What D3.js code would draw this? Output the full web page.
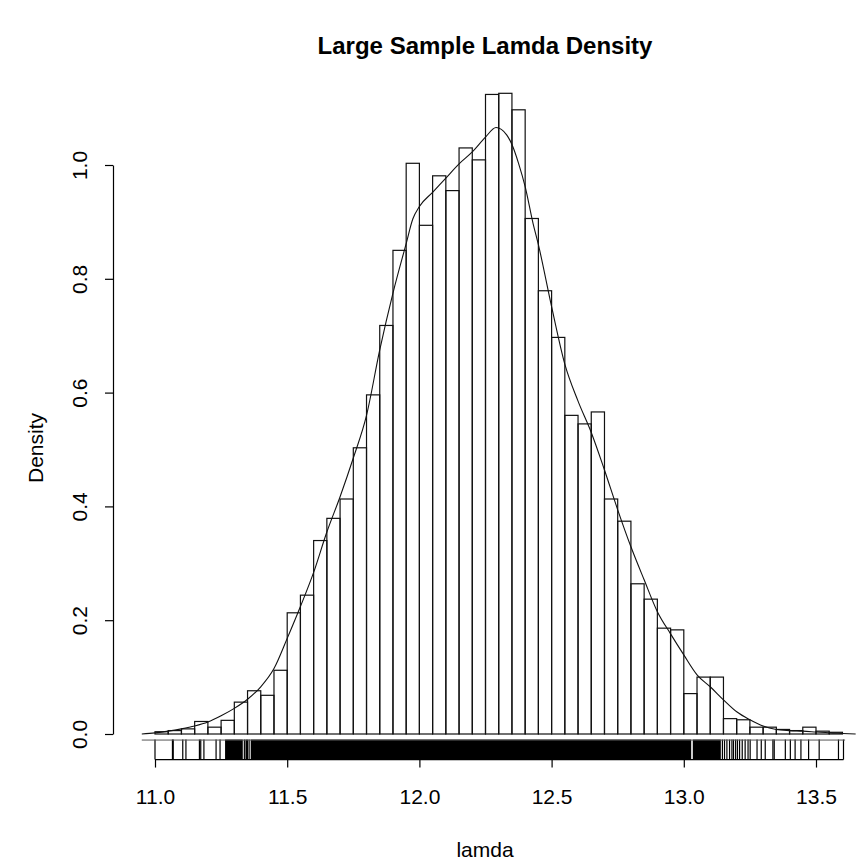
<!DOCTYPE html>
<html>
<head>
<meta charset="utf-8">
<script src="https://cdn.jsdelivr.net/npm/d3@7"></script>
<style>
  body { margin: 0; background: #fff; }
  svg { display: block; font-family: "Liberation Sans", Arial, sans-serif; }
</style>
</head>
<body>
<svg id="chart" width="857" height="862"></svg>
<script>
// histogram bins (left edge) and density heights
const binStarts = [11.00,11.05,11.10,11.15,11.20,11.25,11.30,11.35,11.40,11.45,
  11.50,11.55,11.60,11.65,11.70,11.75,11.80,11.85,11.90,11.95,
  12.00,12.05,12.10,12.15,12.20,12.25,12.30,12.35,12.40,12.45,
  12.50,12.55,12.60,12.65,12.70,12.75,12.80,12.85,12.90,12.95,
  13.00,13.05,13.10,13.15,13.20,13.25,13.30,13.35,13.40,13.45,
  13.50,13.55];
const binDensity = [0.004,0.006,0.009,0.022,0.012,0.024,0.056,0.076,0.068,0.112,
  0.213,0.244,0.340,0.379,0.413,0.503,0.596,0.718,0.850,1.003,
  0.894,0.981,0.955,1.030,1.009,1.124,1.126,1.097,0.906,0.779,
  0.697,0.560,0.545,0.566,0.413,0.374,0.264,0.237,0.186,0.183,
  0.071,0.100,0.100,0.027,0.025,0.012,0.012,0.008,0.006,0.012,
  0.005,0.003];
const binWidth = 0.05;

// kernel density curve
const densX = [10.95,11.00,11.05,11.10,11.15,11.20,11.25,11.30,11.35,11.40,
  11.45,11.50,11.55,11.60,11.65,11.70,11.75,11.80,11.85,11.90,
  11.95,11.975,12.00,12.05,12.10,12.15,12.20,12.25,12.29,12.33,
  12.35,12.375,12.40,12.43,12.45,12.50,12.55,12.60,12.65,12.70,
  12.75,12.80,12.85,12.90,12.95,13.00,13.05,13.10,13.15,13.20,
  13.25,13.30,13.35,13.40,13.45,13.50,13.55,13.60,13.65];
const densY = [0.000,0.002,0.005,0.009,0.014,0.021,0.032,0.045,0.061,0.083,
  0.115,0.168,0.224,0.284,0.355,0.417,0.485,0.560,0.675,0.775,
  0.862,0.905,0.927,0.952,0.977,1.002,1.023,1.049,1.066,1.053,
  1.036,1.003,0.962,0.897,0.860,0.751,0.650,0.585,0.530,0.464,
  0.394,0.329,0.271,0.215,0.176,0.139,0.104,0.083,0.060,0.039,
  0.025,0.014,0.008,0.006,0.005,0.0035,0.002,0.001,0.000];

// rug: single observations in the tails, solid runs where ticks merge
const rugSingles = [11.000,11.066,11.069,11.105,11.117,11.168,11.173,11.185,11.231,11.246,
  11.338,11.356,
  13.146,13.154,13.163,13.173,13.182,13.188,13.196,13.203,13.211,13.221,
  13.232,13.243,13.251,13.277,13.293,13.308,13.337,13.342,13.384,13.403,
  13.421,13.443,13.472,13.512,13.585,13.604];
const rugRuns = [[11.265,11.332],[11.342,11.352],[11.362,13.028],[13.034,13.140]];

const xTicks = [11.0,11.5,12.0,12.5,13.0,13.5];
const yTicks = [0.0,0.2,0.4,0.6,0.8,1.0];

const svg = d3.select('#chart');
svg.append('rect').attr('width',857).attr('height',862).attr('fill','#fff');

const x = d3.scaleLinear().domain([11,13.5]).range([155,816]);
const y = d3.scaleLinear().domain([0,1]).range([734,165]);
const yAxisPos = y(-0.0449);

// bars
svg.selectAll('.bar')
  .data(binStarts)
  .enter()
  .append('rect')
  .classed('bar',true)
  .attr('x',(d)=>x(d))
  .attr('width',(d)=>x(d+binWidth)-x(d))
  .attr('y',(d,i)=>y(binDensity[i]))
  .attr('height',(d,i)=>y(0)-y(binDensity[i]))
  .attr('fill','none')
  .attr('stroke','#111')
  .attr('stroke-width',1.2);

// density line
const line = d3.line()
  .x((d)=>x(d[0]))
  .y((d)=>y(d[1]))
  .curve(d3.curveMonotoneX);
svg.append('path')
  .datum(d3.zip(densX,densY))
  .attr('d',line)
  .attr('fill','none')
  .attr('stroke','#111')
  .attr('stroke-width',1.1);

// rug
const rugTop = yAxisPos - 20;
svg.selectAll('.rug')
  .data(rugSingles)
  .enter()
  .append('line')
  .classed('rug',true)
  .attr('x1',(d)=>x(d)).attr('x2',(d)=>x(d))
  .attr('y1',rugTop).attr('y2',yAxisPos)
  .attr('stroke','#000')
  .attr('stroke-width',1.2);
svg.selectAll('.rugrun')
  .data(rugRuns)
  .enter()
  .append('rect')
  .classed('rugrun',true)
  .attr('x',(d)=>x(d[0]))
  .attr('width',(d)=>x(d[1])-x(d[0]))
  .attr('y',rugTop)
  .attr('height',yAxisPos-rugTop)
  .attr('fill','#000');
// thin rule along the top of the rug strip, spanning the density range
svg.append('line')
  .attr('x1',x(d3.min(densX))).attr('x2',x(13.61))
  .attr('y1',rugTop+0.5).attr('y2',rugTop+0.5)
  .attr('stroke','#555')
  .attr('stroke-width',1);

// x axis
const xAxis = d3.axisBottom(x).tickValues(xTicks).tickFormat(d3.format('.1f')).tickSize(8).tickPadding(22);
const gx = svg.append('g').attr('transform',`translate(0,${yAxisPos})`).call(xAxis);
gx.select('.domain').remove();
gx.append('line')
  .attr('x1',x(d3.min(rugSingles))).attr('x2',x(d3.max(rugSingles)))
  .attr('stroke','#000');
gx.selectAll('line').attr('stroke','#000').attr('stroke-width',1.2);
gx.selectAll('text').attr('font-size',21).attr('fill','#000').attr('font-family','Liberation Sans, Arial, sans-serif');

// y axis
const yAxis = d3.axisLeft(y).tickValues(yTicks).tickFormat(d3.format('.1f')).tickSize(8).tickSizeOuter(0);
const gy = svg.append('g').attr('transform','translate(113,0)').call(yAxis);
gy.selectAll('line, path').attr('stroke','#000').attr('stroke-width',1.2);
gy.selectAll('.tick text')
  .attr('x',null).attr('dy',null)
  .attr('text-anchor','middle')
  .attr('transform','translate(-26,0) rotate(-90)')
  .attr('font-size',21).attr('fill','#000')
  .attr('font-family','Liberation Sans, Arial, sans-serif');

// titles
svg.append('text')
  .attr('x',485).attr('y',54)
  .attr('text-anchor','middle')
  .attr('font-size',24).attr('font-weight','bold')
  .text('Large Sample Lamda Density');
svg.append('text')
  .attr('x',485).attr('y',857)
  .attr('text-anchor','middle')
  .attr('font-size',21)
  .text('lamda');
svg.append('text')
  .attr('transform','translate(43,448) rotate(-90)')
  .attr('text-anchor','middle')
  .attr('font-size',21)
  .text('Density');
</script>
</body>
</html>
